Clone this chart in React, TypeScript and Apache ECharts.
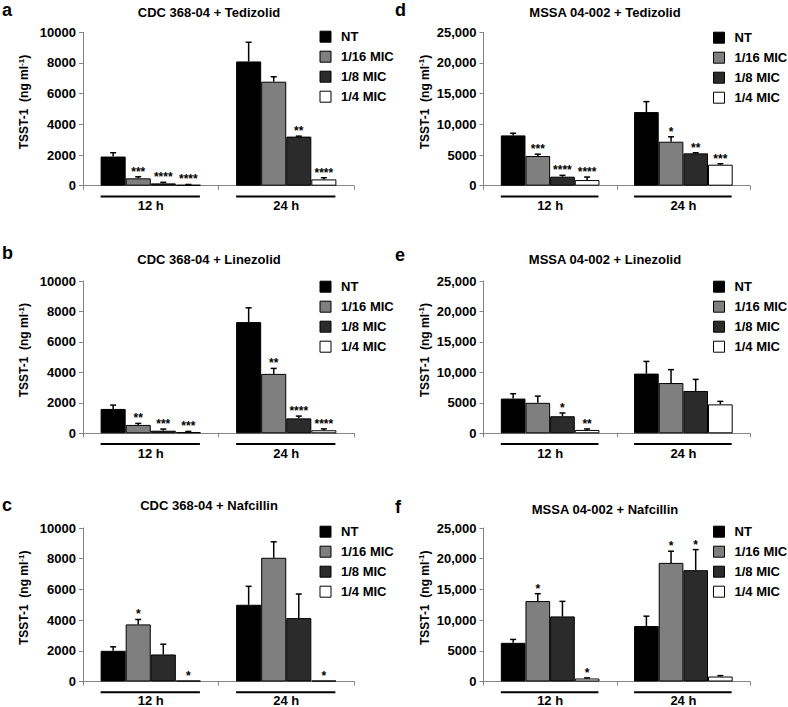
import React, { useEffect, useRef } from 'react';
import * as echarts from 'echarts';

// ---------- data ----------
const TIMES = ['12 h', '24 h'];
const TREATMENTS = ['NT', '1/16 MIC', '1/8 MIC', '1/4 MIC'];
const COLORS = ['#000000', '#7f7f7f', '#2b2b2b', '#ffffff'];

const LEFT_TICKS = ['0', '2000', '4000', '6000', '8000', '10000'];
const RIGHT_TICKS = ['0', '5000', '10,000', '15,000', '20,000', '25,000'];

// [time][treatment]
const A_TITLE = 'CDC 368-04 + Tedizolid';
const A_MEAN = [[1900, 480, 150, 60], [8100, 6780, 3200, 410]];
const A_ERR = [[250, 100, 70, 20], [1250, 320, 30, 110]];
const A_STARS = [['', '***', '****', '****'], ['', '', '**', '****']];

const B_TITLE = 'CDC 368-04 + Linezolid';
const B_MEAN = [[1600, 550, 170, 80], [7300, 3900, 980, 200]];
const B_ERR = [[250, 100, 110, 45], [940, 360, 150, 90]];
const B_STARS = [['', '**', '***', '***'], ['', '**', '****', '****']];

const C_TITLE = 'CDC 368-04 + Nafcillin';
const C_MEAN = [[2000, 3720, 1760, 60], [5000, 8060, 4130, 60]];
const C_ERR = [[260, 320, 670, 0], [1200, 1040, 1570, 0]];
const C_STARS = [['', '*', '', '*'], ['', '', '', '*']];

const D_TITLE = 'MSSA 04-002 + Tedizolid';
const D_MEAN = [[8200, 4840, 1470, 920], [12000, 7170, 5270, 3420]];
const D_ERR = [[350, 300, 220, 490], [1700, 800, 100, 160]];
const D_STARS = [['', '***', '****', '****'], ['', '*', '**', '***']];

const E_TITLE = 'MSSA 04-002 + Linezolid';
const E_MEAN = [[5700, 5000, 2800, 550], [9800, 8250, 6950, 4750]];
const E_ERR = [[800, 1100, 540, 170], [2000, 2200, 1900, 490]];
const E_STARS = [['', '', '*', '**'], ['', '', '', '']];

const F_TITLE = 'MSSA 04-002 + Nafcillin';
const F_MEAN = [[6300, 13100, 10600, 490], [9040, 19320, 18130, 810]];
const F_ERR = [[550, 1200, 2450, 100], [1600, 1900, 3350, 150]];
const F_STARS = [['', '*', '', '*'], ['', '*', '*', '']];

// ---------- layout ----------
const FONT = '"Liberation Sans", Arial, Helvetica, sans-serif';
const AXIS_GRAY = '#858585';
const GAP = 0.26;

const COLS = [
  { left: 83, width: 271, titleX: 209, letterX: 2, legendLeft: 319.5, ticks: LEFT_TICKS, max: 10000, interval: 2000 },
  { left: 483.5, width: 266.5, titleX: 605, letterX: 395, legendLeft: 713, ticks: RIGHT_TICKS, max: 25000, interval: 5000 },
];
const ROWS = [
  { top: 32.3, height: 153.4, labelMargin: 14 },
  { top: 281, height: 152.3, labelMargin: 14 },
  { top: 528, height: 153.5, labelMargin: 13 },
];

const PANELS = [
  { letter: 'a', title: A_TITLE, mean: A_MEAN, err: A_ERR, stars: A_STARS, col: 0, row: 0, titleY: 12.3, letterBase: 15, legendY: 36.7 },
  { letter: 'b', title: B_TITLE, mean: B_MEAN, err: B_ERR, stars: B_STARS, col: 0, row: 1, titleY: 259.3, letterBase: 258, legendY: 286.7 },
  { letter: 'c', title: C_TITLE, mean: C_MEAN, err: C_ERR, stars: C_STARS, col: 0, row: 2, titleY: 505, letterBase: 510, legendY: 531.7 },
  { letter: 'd', title: D_TITLE, mean: D_MEAN, err: D_ERR, stars: D_STARS, col: 1, row: 0, titleY: 12.3, letterBase: 15, legendY: 37.7 },
  { letter: 'e', title: E_TITLE, mean: E_MEAN, err: E_ERR, stars: E_STARS, col: 1, row: 1, titleY: 259.3, letterBase: 260, legendY: 286.7 },
  { letter: 'f', title: F_TITLE, mean: F_MEAN, err: F_ERR, stars: F_STARS, col: 1, row: 2, titleY: 509, letterBase: 512, legendY: 531.7 },
];

function buildOption() {
  const grid: any[] = [];
  const xAxis: any[] = [];
  const yAxis: any[] = [];
  const series: any[] = [];
  const legend: any[] = [];
  const graphic: any[] = [];

  PANELS.forEach((p, i) => {
    const c = COLS[p.col];
    const r = ROWS[p.row];
    grid.push({ left: c.left, top: r.top, width: c.width, height: r.height, containLabel: false, outerBoundsMode: 'none' });
    xAxis.push({
      type: 'category',
      gridIndex: i,
      data: TIMES,
      axisLine: { show: true, lineStyle: { color: AXIS_GRAY, width: 1 } },
      axisTick: { show: true, length: 4, lineStyle: { color: AXIS_GRAY } },
      axisLabel: { margin: r.labelMargin, fontSize: 13, lineHeight: 12, fontWeight: 'bold', color: '#000', fontFamily: FONT },
      splitLine: { show: false },
    });
    yAxis.push({
      type: 'value',
      gridIndex: i,
      min: 0,
      max: c.max,
      interval: c.interval,
      axisLine: { show: true, lineStyle: { color: AXIS_GRAY, width: 1 } },
      axisTick: { show: true, length: 4, lineStyle: { color: AXIS_GRAY } },
      splitLine: { show: false },
      axisLabel: {
        margin: 7,
        fontSize: 13,
        fontWeight: 'bold',
        color: '#000',
        fontFamily: FONT,
        formatter: (v: number) => c.ticks[Math.round(v / c.interval)] ?? String(v),
      },
      name: '{n|TSST-1  (ng ml}{s|-1}{n|)}',
      nameLocation: 'middle',
      nameGap: 52,
      nameRotate: 90,
      nameTextStyle: {
        padding: [0, 0, 0, 14],
        rich: {
          n: { fontSize: 12, fontWeight: 'bold', color: '#000', fontFamily: FONT, lineHeight: 14 },
          s: { fontSize: 8, fontWeight: 'bold', color: '#000', fontFamily: FONT, verticalAlign: 'top', lineHeight: 9 },
        },
      },
    });

    TREATMENTS.forEach((name, s) => {
      series.push({
        type: 'bar',
        name,
        xAxisIndex: i,
        yAxisIndex: i,
        data: [p.mean[0][s], p.mean[1][s]],
        barGap: '0%',
        barCategoryGap: GAP * 100 + '%',
        itemStyle: { color: COLORS[s], borderColor: '#000', borderWidth: 1 },
        silent: true,
      });
    });

    const items: number[][] = [];
    for (let t = 0; t < TIMES.length; t++) {
      for (let s = 0; s < TREATMENTS.length; s++) {
        items.push([t, s, p.mean[t][s], p.err[t][s]]);
      }
    }
    series.push({
      type: 'custom',
      xAxisIndex: i,
      yAxisIndex: i,
      z: 5,
      silent: true,
      encode: { x: 0, y: 2 },
      data: items,
      renderItem: (params: any, api: any) => {
        const cat = api.value(0);
        const s = api.value(1);
        const v = api.value(2);
        const e = api.value(3);
        const base = api.coord([cat, v]);
        const top = api.coord([cat, v + e]);
        const zero = api.coord([cat, 0]);
        const catW = api.size([1, 0])[0];
        const bw = (catW * (1 - GAP)) / 4;
        const x = base[0] + (s - 1.5) * bw;
        const children: any[] = [];
        if (e > 0) {
          children.push({ type: 'line', shape: { x1: x, y1: base[1], x2: x, y2: top[1] }, style: { stroke: '#000', lineWidth: 1.5 } });
          children.push({ type: 'line', shape: { x1: x - 3, y1: top[1], x2: x + 3, y2: top[1] }, style: { stroke: '#000', lineWidth: 1.5 } });
        }
        const star = p.stars[cat][s];
        if (star) {
          children.push({
            type: 'text',
            x,
            y: top[1] + 1,
            style: { text: star, align: 'center', verticalAlign: 'bottom', fontSize: 12, fontWeight: 'bold', fill: '#000', fontFamily: FONT },
          });
        }
        if (s === 0) {
          const cx = base[0];
          children.push({
            type: 'line',
            shape: { x1: cx - 2 * bw, y1: zero[1] + 10.7, x2: cx + 2 * bw - 1, y2: zero[1] + 10.7 },
            style: { stroke: '#000', lineWidth: 2 },
          });
        }
        return { type: 'group', children };
      },
    });

    legend.push({
      data: TREATMENTS,
      orient: 'vertical',
      left: c.legendLeft,
      top: p.legendY - 7,
      padding: 0,
      itemWidth: 11,
      itemHeight: 11,
      itemGap: 6,
      icon: 'rect',
      selectedMode: false,
      itemStyle: { borderColor: '#000', borderWidth: 1 },
      formatter: (name: string) => '{t|' + name + '}',
      textStyle: {
        fontSize: 13,
        fontWeight: 'bold',
        color: '#000',
        lineHeight: 14,
        fontFamily: FONT,
        rich: {
          t: { fontSize: 13, fontWeight: 'bold', color: '#000', lineHeight: 14, fontFamily: FONT, padding: [0, 0, 0, 5] },
        },
      },
    });

    graphic.push({
      type: 'text',
      x: c.titleX,
      y: p.titleY,
      style: { text: p.title, align: 'center', verticalAlign: 'middle', fontSize: 13, fontWeight: 'bold', fill: '#000', fontFamily: FONT },
    });
    graphic.push({
      type: 'text',
      x: c.letterX,
      y: p.letterBase + 4,
      style: { text: p.letter, align: 'left', verticalAlign: 'bottom', fontSize: 18, fontWeight: 'bold', fill: '#000', fontFamily: FONT },
    });
  });

  return {
    animation: false,
    backgroundColor: '#ffffff',
    grid,
    xAxis,
    yAxis,
    series,
    legend,
    graphic,
  };
}

export default function App() {
  const ref = useRef<HTMLDivElement>(null);
  useEffect(() => {
    if (!ref.current) return;
    const chart = echarts.init(ref.current, undefined, { renderer: 'svg' });
    chart.setOption(buildOption() as any);
    return () => chart.dispose();
  }, []);
  return <div ref={ref} style={{ position: 'absolute', left: 0, top: 0, width: 788, height: 707 }} />;
}
